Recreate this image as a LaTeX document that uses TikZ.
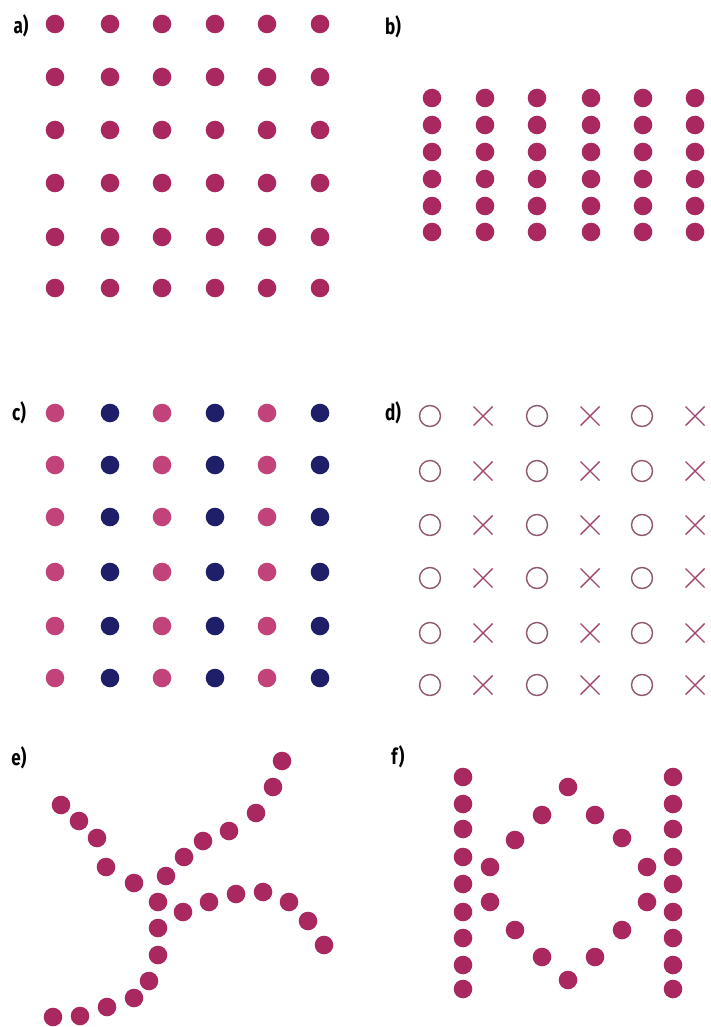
\documentclass[tikz,border=0pt]{standalone}
\usepackage{fontspec}
\newfontfamily\panelfont{Fira Sans}[FakeStretch=0.78]
\definecolor{dotpink}{HTML}{A8285F}
\definecolor{lightpink}{HTML}{C2437A}
\definecolor{dotnavy}{HTML}{1F1E68}
\definecolor{ringmauve}{HTML}{8E5670}
\definecolor{crossmauve}{HTML}{A2466F}

\begin{document}
\begin{tikzpicture}[x=1pt, y=-1pt,
    dot/.style={fill=dotpink},
    panel/.style={font=\panelfont\bfseries\fontsize{22}{22}\selectfont, inner sep=0pt}]

    \useasboundingbox (0,0) rectangle (710,1027);
    \def\dotr{9.3}

    % -------------------------------------------------------------
    % a) SQUARE LATTICE
    % -------------------------------------------------------------
    \node[panel] (la) at (21,26) {a)};
    \foreach \x in {55,110,162,215,267,320}
        \foreach \y in {24,77,130,183,237,288}
            \fill[dot] (\x,\y) circle (\dotr);

    % -------------------------------------------------------------
    % b) COLUMNS, CLOSE IN Y
    % -------------------------------------------------------------
    \node[panel] (lb) at (393,27) {b)};
    \foreach \x in {432,485,537,591,643,695}
        \foreach \y in {98,125,152,179,206,232}
            \fill[dot] (\x,\y) circle (\dotr);

    % -------------------------------------------------------------
    % c) ALTERNATING COLOURS
    % -------------------------------------------------------------
    \node[panel] (lc) at (19,413) {c)};
    \foreach \x/\c in {55/lightpink,110/dotnavy,162/lightpink,215/dotnavy,267/lightpink,320/dotnavy}
        \foreach \y in {413,465,517,572,626,678}
            \fill[\c] (\x,\y) circle (\dotr);

    % -------------------------------------------------------------
    % d) RINGS AND CROSSES
    % -------------------------------------------------------------
    \node[panel] (ld) at (393,413) {d)};
    \foreach \y in {416,471,525,578,633,685} {
        \foreach \x in {430,537,642}
            \draw[ringmauve, line width=1.4pt] (\x,\y) circle (10.5);
        \foreach \x in {483,590,695}
            \draw[crossmauve, line width=1.4pt] (\x-9.5,\y-9.5) -- (\x+9.5,\y+9.5)
                (\x-9.5,\y+9.5) -- (\x+9.5,\y-9.5);
    }

    % -------------------------------------------------------------
    % e) TWO CROSSING CHAINS
    % -------------------------------------------------------------
    \node[panel] (le) at (19,758) {e)};
    \foreach \x/\y in {282/761,273/787,256/813,229/831,203/841,184/857,166/876,
                       158/902,158/928,158/955,149/981,134/998,107/1007,80/1016,53/1017}
        \fill[dot] (\x,\y) circle (\dotr);
    \foreach \x/\y in {61/805,79/821,97/838,106/867,134/883,
                       183/912,209/902,236/894,263/892,289/902,308/921,324/945}
        \fill[dot] (\x,\y) circle (\dotr);

    % -------------------------------------------------------------
    % f) RING BETWEEN TWO WALLS
    % -------------------------------------------------------------
    \node[panel] (lf) at (398,757) {f)};
    \foreach \y in {777,804,829,857,884,912,938,965,989} {
        \fill[dot] (463,\y) circle (\dotr);
        \fill[dot] (673,\y) circle (\dotr);
    }
    \foreach \x/\y in {568/787,542/815,595/815,515/840,622/838,490/867,647/867,
                       490/902,647/902,515/930,622/930,542/957,595/957,568/980}
        \fill[dot] (\x,\y) circle (\dotr);

\end{tikzpicture}
\end{document}
